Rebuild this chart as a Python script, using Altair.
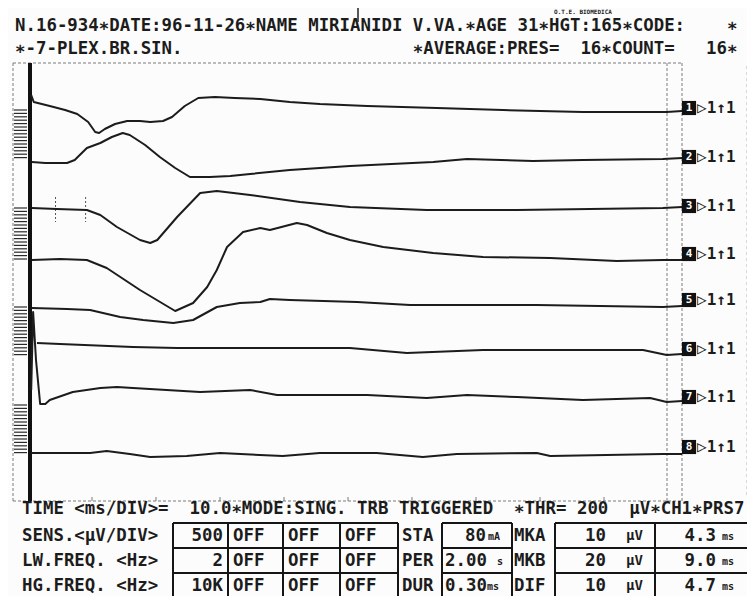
import altair as alt
import pandas as pd
import numpy as np

W, H = 739, 588
FONT = "DejaVu Sans Mono"
INK = "#1c1c1c"
GRID = "#7a7a7a"

# ---------------- data ----------------
# time in ms after stimulus, level = vertical position of the trace (screen units, 0 = top)
CH1_T = [0.5, 0.9, 3.4, 5.8, 7.7, 9.4, 10.5, 11.1, 12.0, 13.6, 15.5, 17.5, 19.1, 21.1, 22.5, 24.5,
         26.6, 29.2, 32.3, 36.3, 40.9, 45.6, 53.0, 63.9, 74.2, 86.7, 99.8, 102.2]
CH1_V = [95, 102, 106, 110, 114, 122, 132, 133, 129, 124, 121, 121, 122, 121, 117, 106,
         98, 97, 98, 99, 102, 104, 106, 108, 110, 112, 112, 111]
CH2_T = [0.6, 2.7, 6.1, 7.3, 9.2, 11.3, 13.1, 14.8, 15.9, 18.3, 20.6, 23.0, 25.3, 28.4, 31.6,
         34.7, 40.9, 50.3, 63.3, 68.6, 78.9, 86.7, 99.2, 102.2]
CH2_V = [162, 163, 163, 160, 148, 143, 137, 133, 135, 145, 157, 168, 177, 177, 176,
         174, 170, 166, 162, 159, 161, 160, 159, 158]
CH3_T = [0.6, 4.5, 9.2, 11.3, 13.9, 17.5, 19.1, 20.2, 23.3, 26.9, 29.5, 34.7, 42.5, 50.3,
         62.3, 76.4, 99.2, 102.2]
CH3_V = [208, 209, 210, 215, 227, 240, 243, 240, 217, 193, 191, 195, 202, 207,
         210, 210, 208, 207]
CH4_T = [0.6, 5.0, 9.2, 12.3, 17.5, 23.0, 25.8, 28.0, 29.5, 31.1, 33.6, 36.3, 37.8, 42.0,
         43.6, 46.7, 50.3, 55.5, 63.3, 71.1, 81.6, 92.0, 99.2, 102.2]
CH4_V = [260, 259, 260, 268, 290, 311, 303, 287, 270, 247, 232, 228, 230, 223,
         225, 233, 240, 247, 253, 257, 258, 261, 260, 260]
CH5_T = [0.6, 6.1, 9.7, 14.4, 18.0, 22.7, 25.8, 29.5, 33.1, 36.3, 37.8, 40.9, 51.4, 59.7,
         79.5, 99.2, 102.2]
CH5_V = [308, 309, 310, 317, 320, 323, 320, 307, 303, 302, 299, 300, 302, 305,
         305, 307, 306]
CH6_T = [1.4, 5.0, 16.4, 23.3, 36.3, 50.3, 59.2, 71.1, 96.1, 99.8, 102.2]
CH6_V = [343, 344, 347, 348, 348, 348, 353, 350, 350, 355, 354]
CH7_T = [0.5, 0.8, 1.25, 1.9, 2.7, 3.4, 7.0, 11.3, 13.9, 16.4, 26.9, 34.7, 38.9, 53.0,
         62.3, 68.6, 76.4, 86.7, 97.2, 99.8, 102.2]
CH7_V = [390, 312, 360, 404, 404, 400, 392, 388, 387, 388, 392, 390, 395, 395,
         398, 395, 397, 400, 398, 402, 401]
CH8_T = [0.5, 9.7, 12.3, 15.9, 19.1, 24.8, 30.0, 39.8, 45.6, 54.5, 61.7, 67.0, 79.5, 81.6,
         99.2, 102.2]
CH8_V = [453, 453, 451, 454, 457, 456, 453, 456, 453, 453, 457, 454, 453, 456,
         454, 454]

CHANNELS = ["1", "2", "3", "4", "5", "6", "7", "8"]
CH_LABEL_Y = [108, 157, 206, 254, 300, 349, 397, 447]
DIV_T = [10, 20, 30, 40, 50, 60, 70, 80, 90]
MARKERS_MS = [4.3, 9.0]  # MKA, MKB

HEAD1 = "N.16-934∗DATE:96-11-26∗NAME MIRIANIDI V.VA.∗AGE 31∗HGT:165∗CODE:    ∗"
HEAD2 = "∗-7-PLEX.BR.SIN.                      ∗AVERAGE:PRES=  16∗COUNT=   16∗"
TIMELINE = "TIME <ms/DIV>=  10.0∗MODE:SING. TRB TRIGGERED  ∗THR= 200  µV∗CH1∗PRS7"
ROW_LABELS = ["SENS.<µV/DIV>", "LW.FREQ. <Hz>", "HG.FREQ. <Hz>"]
ROW_CH1 = ["500", "2", "10K"]
STIM_NAMES = ["STA", "PER", "DUR"]
STIM_VALS = ["80", "2.00", "0.30"]
STIM_UNITS = ["mA", "s", "ms"]
MK_NAMES = ["MKA", "MKB", "DIF"]
MK_UV = ["10", "20", "10"]
MK_MS = ["4.3", "9.0", "4.7"]

# ---------------- scales (screen layout) ----------------
X0_MS, PX_MS = 28.0, 6.4
PX = alt.Scale(domain=[8, 8 + W], range=[0, W], nice=False, zero=False)
PY = alt.Scale(domain=[8, 8 + H], range=[0, H], nice=False, zero=False)
TX = alt.Scale(domain=[(8 - X0_MS) / PX_MS, (8 + W - X0_MS) / PX_MS], range=[0, W], nice=False, zero=False)


def nb(s):
    return s.replace(" ", "\u00a0")


def rules(segs, **kw):
    df = pd.DataFrame(segs, columns=["x", "y", "x2", "y2"])
    return alt.Chart(df).mark_rule(**kw).encode(
        x=alt.X("x:Q", scale=PX, axis=None), y=alt.Y("y:Q", scale=PY, axis=None),
        x2="x2:Q", y2="y2:Q")


def texts(items, **kw):
    df = pd.DataFrame(items, columns=["x", "y", "text"])
    df["text"] = df["text"].map(nb)
    base = dict(font=FONT, fontWeight="bold", color=INK, baseline="middle", align="left", fontSize=17.4)
    base.update(kw)
    return alt.Chart(df).mark_text(**base).encode(
        x=alt.X("x:Q", scale=PX, axis=None), y=alt.Y("y:Q", scale=PY, axis=None), text="text:N")


layers = []

# frame (dashed)
layers.append(rules([(13, 63, 682, 63), (13, 501, 682, 501), (13, 63, 13, 501),
                     (667, 63, 667, 501), (682, 63, 682, 501)],
                    color=GRID, strokeWidth=1, strokeDash=[3, 2]))
layers.append(rules([(747, 66, 747, 498)], color="#b5b5b5", strokeWidth=1, strokeDash=[3, 3]))

# calibration hatches left of time zero
hatch = []
for a, b in [(110, 160), (208, 260), (307, 357), (405, 455)]:
    for yy in np.arange(a, b + 0.1, 3.4):
        hatch.append((14, float(yy), 27, float(yy)))
layers.append(rules(hatch, color="#2a2a2a", strokeWidth=1.2))

# time-zero thick line
layers.append(rules([(30, 63, 30, 501)], color="#111111", strokeWidth=4))

# division ticks on bottom border
ticks = alt.Chart(pd.DataFrame({"t": DIV_T})).mark_rule(color=GRID, strokeWidth=1).encode(
    x=alt.X("t:Q", scale=TX, axis=None), y=alt.value(497 - 8), y2=alt.value(501 - 8))
layers.append(ticks)

# MKA / MKB markers on channel 3
mk = alt.Chart(pd.DataFrame({"t": MARKERS_MS})).mark_rule(color="#555555", strokeWidth=1, strokeDash=[2, 2]).encode(
    x=alt.X("t:Q", scale=TX, axis=None), y=alt.value(197 - 8), y2=alt.value(222 - 8))
layers.append(mk)

# traces
rows = []
for i, (ts, vs) in enumerate(zip([CH1_T, CH2_T, CH3_T, CH4_T, CH5_T, CH6_T, CH7_T, CH8_T],
                                 [CH1_V, CH2_V, CH3_V, CH4_V, CH5_V, CH6_V, CH7_V, CH8_V])):
    for k, (t, v) in enumerate(zip(ts, vs)):
        rows.append(dict(ch=CHANNELS[i], k=k, t=t, v=v))
traces = alt.Chart(pd.DataFrame(rows)).mark_line(color=INK, strokeWidth=2, strokeJoin="round").encode(
    x=alt.X("t:Q", scale=TX, axis=None), y=alt.Y("v:Q", scale=PY, axis=None),
    detail="ch:N", order="k:Q")
layers.append(traces)

# channel label boxes
lab = pd.DataFrame({"x": [689] * 8, "y": CH_LABEL_Y, "text": CHANNELS})
layers.append(alt.Chart(lab).mark_square(size=200, color="#111111", opacity=1).encode(
    x=alt.X("x:Q", scale=PX, axis=None), y=alt.Y("y:Q", scale=PY, axis=None)))
layers.append(texts(list(zip([689] * 8, CH_LABEL_Y, CHANNELS)), color="white", fontSize=11, align="center"))
layers.append(texts(list(zip([697] * 8, CH_LABEL_Y, ["▷1↑1"] * 8)), fontSize=16))

# header
layers.append(texts([(15, 26, HEAD1), (15, 49, HEAD2)]))
layers.append(texts([(583, 12, "O.T.E. BIOMEDICA")], fontSize=6, align="center"))
layers.append(rules([(358, 8, 358, 22)], color="#222222", strokeWidth=1.5))

# bottom panel
layers.append(texts([(22, 509, TIMELINE)]))
ROW_Y = [536, 561, 586]
tbl = []
for yy in [523, 548, 573, 598]:
    tbl += [(173, yy, 398, yy), (442, yy, 512, yy), (555, yy, 748, yy)]
for xx in [173, 228, 283, 340, 398, 442, 512, 555, 655, 748]:
    tbl.append((xx, 523, xx, 598))
layers.append(rules(tbl, color="#151515", strokeWidth=2))

left_items, right_items, small_items = [], [], []
for r, yy in enumerate(ROW_Y):
    left_items += [(22, yy, ROW_LABELS[r]), (233, yy, "OFF"), (288, yy, "OFF"), (345, yy, "OFF"),
                   (402, yy, STIM_NAMES[r]), (514, yy, MK_NAMES[r])]
    right_items += [(223, yy, ROW_CH1[r]), (606, yy, MK_UV[r]), (716, yy, MK_MS[r])]
    small_items += [(722, yy + 1, "ms")]
layers.append(texts(left_items))
layers.append(texts(right_items, align="right"))
layers.append(texts(small_items, fontSize=10))
layers.append(texts([(626, yy, "µV") for yy in ROW_Y], fontSize=14))
# stimulus values + units
layers.append(texts([(486, ROW_Y[0], STIM_VALS[0])], align="right"))
layers.append(texts([(445, ROW_Y[1], STIM_VALS[1]), (445, ROW_Y[2], STIM_VALS[2])]))
layers.append(texts([(488, ROW_Y[0] + 1, STIM_UNITS[0]), (497, ROW_Y[1] + 1, STIM_UNITS[1]),
                     (487, ROW_Y[2] + 1, STIM_UNITS[2])], fontSize=10))

chart = alt.layer(*layers).resolve_scale(x="independent", y="independent").properties(
    width=W, height=H, autosize=alt.AutoSizeParams(type="none"), padding=0, background="#fcfcfc"
).configure_view(stroke=None)

chart.save("out.html", embed_options={"renderer": "svg", "actions": False})
